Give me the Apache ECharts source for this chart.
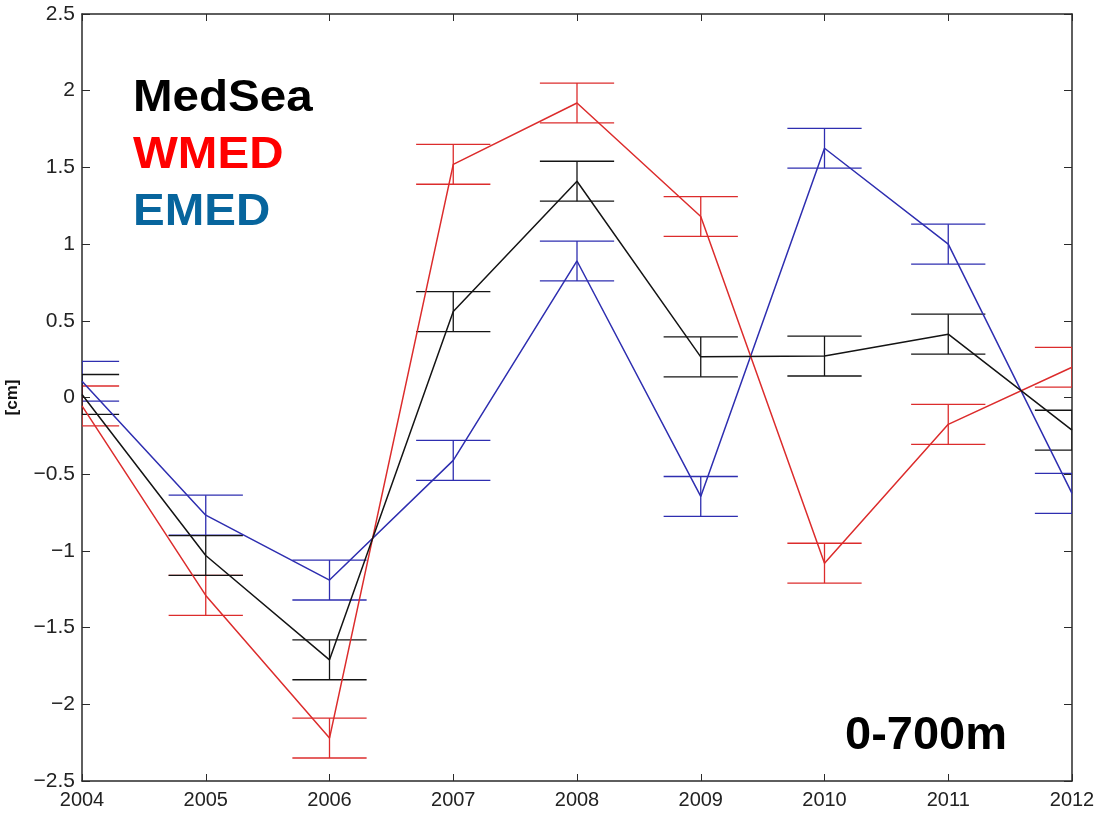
<!DOCTYPE html>
<html>
<head>
<meta charset="utf-8">
<script src="https://cdn.jsdelivr.net/npm/echarts@6/dist/echarts.min.js"></script>
<style>
  html, body { margin: 0; padding: 0; background: #ffffff; }
  #chart { width: 1099px; height: 813px; }
</style>
</head>
<body>
<div id="chart"></div>
<script>
// Annual steric sea-level anomaly, 0-700 m layer [cm]
const years = [2004, 2005, 2006, 2007, 2008, 2009, 2010, 2011, 2012];

const medSea    = [0.02, -1.03, -1.71, 0.56, 1.41, 0.265, 0.27, 0.413, -0.213];
const medSeaErr = [0.13, 0.13, 0.13, 0.13, 0.13, 0.13, 0.13, 0.13, 0.13];

const wmed      = [-0.055, -1.29, -2.22, 1.52, 1.92, 1.18, -1.08, -0.175, 0.197];
const wmedErr   = [0.13, 0.13, 0.13, 0.13, 0.13, 0.13, 0.13, 0.13, 0.13];

const emed      = [0.106, -0.767, -1.19, -0.41, 0.89, -0.645, 1.625, 1.0, -0.625];
const emedErr   = [0.13, 0.13, 0.13, 0.13, 0.13, 0.13, 0.13, 0.13, 0.13];

const seriesNames = ['MedSea', 'WMED', 'EMED'];
const layerLabel = '0-700m';
const unitLabel = '[cm]';

const COLORS = { MedSea: '#141414', WMED: '#dc2c2c', EMED: '#2e2eb0' };
const TEXT_COLORS = { MedSea: '#000000', WMED: '#ff0000', EMED: '#07659d' };
const CAP = 0.3; // half-width of error-bar caps, in years
const FONT = '"Liberation Sans", Arial, Helvetica, sans-serif';

const chart = echarts.init(document.getElementById('chart'), null, { renderer: 'canvas' });

function lineSeries(name, values) {
  return {
    name: name,
    type: 'line',
    data: years.map((yr, i) => [yr, values[i]]),
    showSymbol: false,
    symbol: 'none',
    clip: true,
    z: 4,
    lineStyle: { color: COLORS[name], width: 1.5 },
    animation: false
  };
}

function errorSeries(name, values, errs) {
  const color = COLORS[name];
  return {
    name: name + ' error',
    type: 'custom',
    clip: true,
    z: 3,
    data: years.map((yr, i) => [yr, values[i] - errs[i], values[i] + errs[i]]),
    encode: { x: 0, y: [1, 2] },
    renderItem: function (params, api) {
      const x = api.value(0), lo = api.value(1), hi = api.value(2);
      const pLo = api.coord([x, lo]);
      const pHi = api.coord([x, hi]);
      const xl = api.coord([x - CAP, lo])[0];
      const xr = api.coord([x + CAP, lo])[0];
      const st = { stroke: color, lineWidth: 1.3 };
      return {
        type: 'group',
        children: [
          { type: 'line', shape: { x1: pLo[0], y1: pLo[1], x2: pHi[0], y2: pHi[1] }, style: st },
          { type: 'line', shape: { x1: xl, y1: pLo[1], x2: xr, y2: pLo[1] }, style: st },
          { type: 'line', shape: { x1: xl, y1: pHi[1], x2: xr, y2: pHi[1] }, style: st }
        ]
      };
    },
    animation: false
  };
}

const axisLine = { show: true, onZero: false, lineStyle: { color: '#2a2a2a', width: 1.5 } };
const tickStyle = { color: '#2a2a2a', width: 1 };
const minusFmt = v => String(v).replace('-', '\u2212');

const option = {
  backgroundColor: '#ffffff',
  animation: false,
  grid: { left: 82, right: 27, top: 14, bottom: 32, containLabel: false, outerBoundsMode: 'none' },
  xAxis: [
    {
      type: 'value', min: 2004, max: 2012, interval: 1, position: 'bottom',
      axisLine: axisLine,
      axisTick: { show: true, inside: true, length: 7, lineStyle: tickStyle },
      axisLabel: { color: '#222', fontSize: 20, fontFamily: FONT, margin: 9, formatter: v => String(v) },
      splitLine: { show: false }
    },
    {
      type: 'value', min: 2004, max: 2012, interval: 1, position: 'top',
      axisLine: axisLine,
      axisTick: { show: true, inside: true, length: 7, lineStyle: tickStyle },
      axisLabel: { show: false },
      splitLine: { show: false }
    }
  ],
  yAxis: [
    {
      type: 'value', min: -2.5, max: 2.5, interval: 0.5, position: 'left',
      name: unitLabel, nameLocation: 'middle', nameGap: 61, nameRotate: 90,
      nameTextStyle: { color: '#111', fontSize: 17, fontWeight: 'bold', fontFamily: FONT },
      axisLine: axisLine,
      axisTick: { show: true, inside: true, length: 8, lineStyle: tickStyle },
      axisLabel: { color: '#222', fontSize: 21, fontFamily: FONT, margin: 7, formatter: minusFmt },
      splitLine: { show: false }
    },
    {
      type: 'value', min: -2.5, max: 2.5, interval: 0.5, position: 'right',
      axisLine: axisLine,
      axisTick: { show: true, inside: true, length: 8, lineStyle: tickStyle },
      axisLabel: { show: false },
      splitLine: { show: false }
    }
  ],
  series: [
    errorSeries('EMED', emed, emedErr),
    lineSeries('EMED', emed),
    errorSeries('WMED', wmed, wmedErr),
    lineSeries('WMED', wmed),
    errorSeries('MedSea', medSea, medSeaErr),
    lineSeries('MedSea', medSea)
  ],
  graphic: [
    ...seriesNames.map((n, i) => ({
      type: 'text', left: 133, top: 77 + i * 57, z: 10, scaleX: 1.08,
      style: { text: n, fill: TEXT_COLORS[n], font: 'bold 44px ' + FONT }
    })),
    {
      type: 'text', left: 845, top: 713, z: 10,
      style: { text: layerLabel, fill: '#000', font: 'bold 47px ' + FONT }
    }
  ]
};

chart.setOption(option);
</script>
</body>
</html>
